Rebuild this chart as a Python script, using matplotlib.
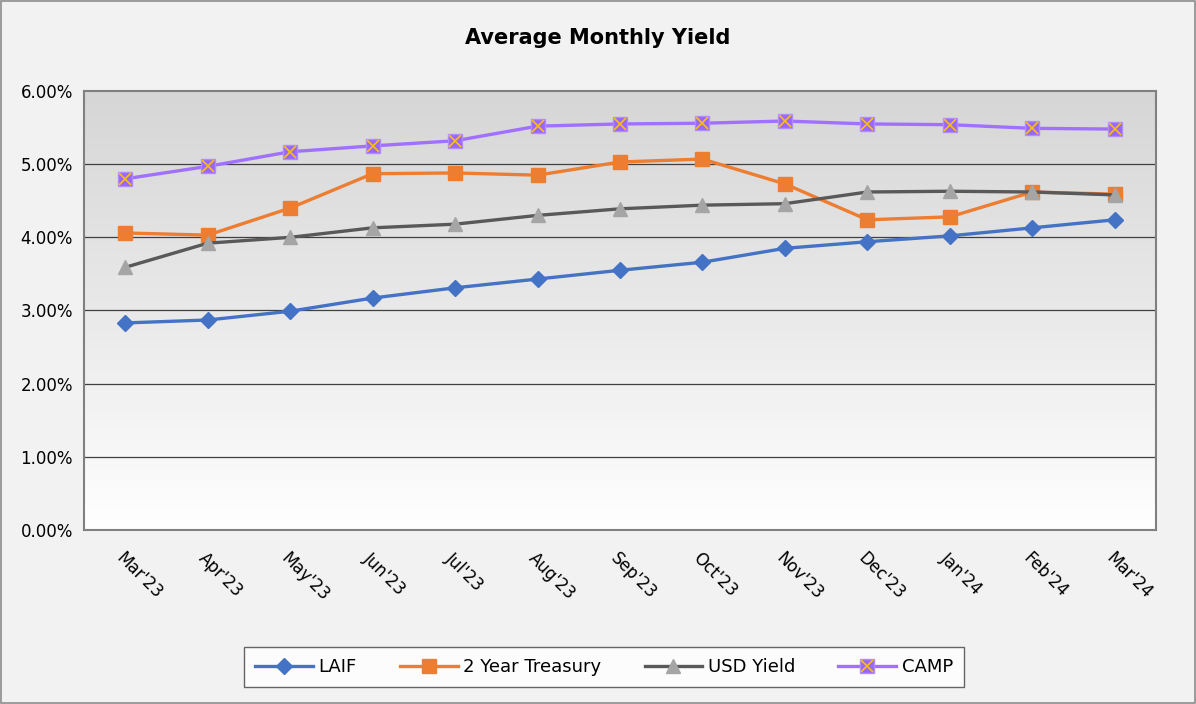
import numpy as np
import matplotlib

matplotlib.use("Agg")
import matplotlib.pyplot as plt
from matplotlib.patches import Rectangle

############### DATA ###############
months = ["Mar'23", "Apr'23", "May'23", "Jun'23", "Jul'23", "Aug'23", "Sep'23",
          "Oct'23", "Nov'23", "Dec'23", "Jan'24", "Feb'24", "Mar'24"]
laif = [2.83, 2.87, 2.99, 3.17, 3.31, 3.43, 3.55, 3.66, 3.85, 3.94, 4.02, 4.13, 4.24]
treasury_2yr = [4.06, 4.03, 4.40, 4.87, 4.88, 4.85, 5.03, 5.07, 4.73, 4.24, 4.28, 4.62, 4.59]
usd_yield = [3.59, 3.92, 4.00, 4.13, 4.18, 4.30, 4.39, 4.44, 4.46, 4.62, 4.63, 4.62, 4.58]
camp = [4.80, 4.97, 5.17, 5.25, 5.32, 5.52, 5.55, 5.56, 5.59, 5.55, 5.54, 5.49, 5.48]
y_ticks = [0, 1, 2, 3, 4, 5, 6]

############### FIGURE ###############
plt.rcParams["font.family"] = ["DejaVu Sans"]
fig = plt.figure(figsize=(11.96, 7.04), dpi=100, facecolor="#f2f2f2")
fig.patches.append(Rectangle((0.001, 0.001), 0.998, 0.997, transform=fig.transFigure,
                             fill=False, edgecolor="#8c8c8c", linewidth=1.2))

ax = fig.add_axes([0.0702, 0.2472, 0.8964, 0.6235])
x = np.arange(len(months))

# gradient background of the plot area
grad = np.linspace(0, 1, 256).reshape(-1, 1)
ax.imshow(grad, cmap=matplotlib.colors.LinearSegmentedColormap.from_list(
    "bg", ["#d6d6d6", "#e9e9e9", "#ffffff"]), aspect="auto",
    extent=[0, 1, 0, 1], transform=ax.transAxes, zorder=0, origin="upper")

for yv in y_ticks[1:-1]:
    ax.axhline(yv, color="#404040", linewidth=0.9, zorder=1)

ax.plot(x, laif, color="#4472c4", linewidth=2.4, marker="D", markersize=8,
        label="LAIF", zorder=3)
ax.plot(x, treasury_2yr, color="#ed7d31", linewidth=2.4, marker="s", markersize=10,
        label="2 Year Treasury", zorder=3)
ax.plot(x, usd_yield, color="#595959", linewidth=2.4, marker="^", markersize=10,
        markerfacecolor="#a5a5a5", markeredgecolor="#a5a5a5", label="USD Yield", zorder=3)
ax.plot(x, camp, color="#a070ff", linewidth=2.4, marker="s", markersize=10,
        markerfacecolor="#9966ff", markeredgecolor="#b08cff", zorder=3)
ax.plot(x, camp, linestyle="none", marker="x", markersize=8, markeredgewidth=1.2,
        color="#ffc000", zorder=4)
camp_handle = (ax.plot([], [], color="#a070ff", linewidth=2.4, marker="s", markersize=10,
                       markerfacecolor="#9966ff", markeredgecolor="#b08cff")[0],
               ax.plot([], [], linestyle="none", marker="x", markersize=8,
                       markeredgewidth=1.2, color="#ffc000")[0])

ax.set_xlim(-0.5, len(months) - 0.5)
ax.set_ylim(0, 6)
ax.set_yticks(y_ticks)
ax.set_yticklabels([f"{v:.2f}%" for v in y_ticks], fontsize=12)
ax.set_xticks(x)
ax.set_xticklabels(months, fontsize=12, rotation=-45, ha="left", rotation_mode="anchor")
ax.tick_params(axis="both", length=0, pad=8)
ax.tick_params(axis="x", pad=14)
for sp in ax.spines.values():
    sp.set_color("#808080")
    sp.set_linewidth(1.5)

fig.text(0.5, 0.946, "Average Monthly Yield", ha="center", va="center",
         fontsize=15, fontweight="bold")

handles, labels = ax.get_legend_handles_labels()
handles.append(camp_handle)
labels.append("CAMP")
leg = fig.legend(handles, labels, loc="center", bbox_to_anchor=(604 / 1196, 1 - 667 / 704),
                 ncol=4, fontsize=13, frameon=True, fancybox=False, edgecolor="#404040",
                 handlelength=3.2, columnspacing=2.4, handletextpad=0.3,
                 borderpad=0.6, borderaxespad=0)
leg.get_frame().set_linewidth(1.0)

fig.savefig("out.png", dpi=100, facecolor=fig.get_facecolor())
